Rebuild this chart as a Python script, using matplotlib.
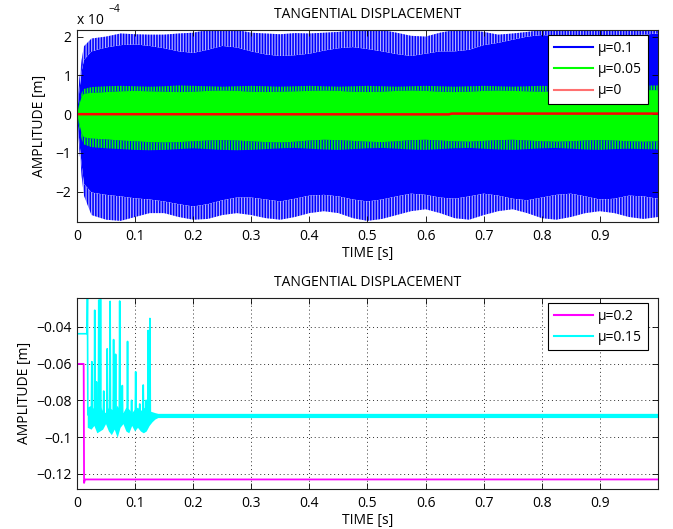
import matplotlib
matplotlib.use('Agg')
import matplotlib.pyplot as plt
from matplotlib.lines import Line2D

plt.rcParams['font.family'] = ['Open Sans', 'DejaVu Sans']
plt.rcParams['font.size'] = 10
plt.rcParams['hatch.linewidth'] = 1.15

# ---------------- top panel data (amplitude in units of 1e-4 m) ----------------
t_env = [0.0, 0.004, 0.008, 0.012,
         0.025, 0.05, 0.075, 0.1, 0.125, 0.15, 0.175, 0.2, 0.225, 0.25,
         0.275, 0.3, 0.325, 0.35, 0.375, 0.4, 0.425, 0.45, 0.475, 0.5,
         0.525, 0.55, 0.575, 0.6, 0.625, 0.65, 0.675, 0.7, 0.725, 0.75,
         0.775, 0.8, 0.825, 0.85, 0.875, 0.9, 0.925, 0.95, 0.975, 1.0]

# mu = 0.1 : outer peaks and dense core of the oscillation
blue_tip_hi = [0.0, 0.9, 1.4, 1.75,
               1.95, 2.00, 2.08, 2.06, 2.05, 2.05, 2.08, 2.10, 2.17, 2.17,
               2.17, 2.10, 2.08, 2.06, 2.09, 2.08, 2.10, 2.12, 2.17, 2.17,
               2.17, 2.10, 2.02, 2.00, 2.10, 2.17, 2.17, 2.12, 2.05, 2.08,
               2.12, 2.17, 2.17, 2.17, 2.17, 2.17, 2.17, 2.17, 2.17, 2.17]
blue_core_hi = [0.0, 0.6, 1.1, 1.4,
                1.62, 1.72, 1.78, 1.80, 1.76, 1.70, 1.62, 1.58, 1.66, 1.76,
                1.72, 1.62, 1.54, 1.50, 1.52, 1.56, 1.64, 1.70, 1.73, 1.68,
                1.62, 1.55, 1.50, 1.56, 1.62, 1.62, 1.66, 1.78, 1.84, 1.92,
                2.00, 2.04, 2.02, 2.00, 1.98, 1.98, 2.00, 2.02, 2.05, 2.08]
blue_core_lo = [0.0, -0.7, -1.3, -1.8,
                -2.02, -2.08, -2.12, -2.17, -2.20, -2.25, -2.32, -2.38, -2.32, -2.22,
                -2.15, -2.15, -2.20, -2.25, -2.18, -2.10, -2.08, -2.12, -2.20, -2.25,
                -2.20, -2.12, -2.05, -2.08, -2.15, -2.18, -2.12, -2.05, -2.10, -2.18,
                -2.22, -2.15, -2.08, -2.05, -2.12, -2.20, -2.18, -2.10, -2.12, -2.18]
blue_tip_lo = [0.0, -0.9, -1.6, -2.1,
               -2.60, -2.72, -2.75, -2.65, -2.55, -2.55, -2.65, -2.72, -2.70, -2.60,
               -2.55, -2.60, -2.68, -2.72, -2.65, -2.55, -2.50, -2.55, -2.68, -2.75,
               -2.70, -2.60, -2.50, -2.45, -2.55, -2.68, -2.72, -2.60, -2.50, -2.45,
               -2.55, -2.68, -2.72, -2.65, -2.55, -2.50, -2.55, -2.65, -2.70, -2.65]

# mu = 0.05
green_tip_hi = [0.0, 0.3, 0.55, 0.65,
                0.70, 0.72, 0.73, 0.72, 0.71, 0.72, 0.74, 0.73, 0.72, 0.71,
                0.72, 0.73, 0.72, 0.71, 0.72, 0.73, 0.72, 0.71, 0.72, 0.73,
                0.72, 0.71, 0.72, 0.73, 0.72, 0.71, 0.72, 0.73, 0.72, 0.71,
                0.72, 0.73, 0.72, 0.71, 0.72, 0.73, 0.72, 0.73, 0.74, 0.74]
green_core_hi = [0.0, 0.25, 0.45, 0.53,
                 0.55, 0.57, 0.59, 0.60, 0.59, 0.58, 0.57, 0.58, 0.60, 0.61,
                 0.60, 0.58, 0.57, 0.58, 0.59, 0.60, 0.61, 0.60, 0.58, 0.57,
                 0.58, 0.60, 0.61, 0.60, 0.58, 0.57, 0.58, 0.60, 0.61, 0.60,
                 0.59, 0.58, 0.59, 0.60, 0.61, 0.60, 0.59, 0.60, 0.62, 0.62]
green_core_lo = [0.0, -0.25, -0.5, -0.6,
                 -0.63, -0.65, -0.68, -0.70, -0.72, -0.73, -0.72, -0.70, -0.68, -0.67,
                 -0.68, -0.70, -0.72, -0.73, -0.71, -0.68, -0.66, -0.67, -0.69, -0.71,
                 -0.72, -0.70, -0.67, -0.66, -0.68, -0.70, -0.71, -0.69, -0.67, -0.66,
                 -0.68, -0.70, -0.71, -0.70, -0.68, -0.67, -0.68, -0.70, -0.71, -0.70]
green_tip_lo = [0.0, -0.35, -0.65, -0.78,
                -0.85, -0.88, -0.90, -0.92, -0.93, -0.92, -0.90, -0.88, -0.90, -0.92,
                -0.93, -0.92, -0.90, -0.88, -0.87, -0.89, -0.91, -0.92, -0.90, -0.88,
                -0.87, -0.89, -0.91, -0.92, -0.90, -0.88, -0.87, -0.89, -0.91, -0.92,
                -0.90, -0.88, -0.87, -0.89, -0.91, -0.92, -0.90, -0.89, -0.90, -0.91]

# mu = 0
red_t = [0.0, 0.64, 0.645, 1.0]
red_y = [0.0, -0.005, 0.015, 0.015]

top_labels = ['\u03bc=0.1', '\u03bc=0.05', '\u03bc=0']

# ---------------- bottom panel data (m) ----------------
mag_t = [0.0, 0.0003, 0.0115, 0.0122, 0.0132, 0.0142, 1.0]
mag_y = [-0.100, -0.0602, -0.0602, -0.1250, -0.1238, -0.1231, -0.1231]

cyan_init_t = [0.0, 0.0172]
cyan_init_y = [-0.0438, -0.0438]

spike_t = [0.0180, 0.0255, 0.0305, 0.0335, 0.0375, 0.0405, 0.0460, 0.0520,
           0.0570, 0.0630, 0.0665, 0.0735, 0.0780, 0.0870, 0.0940, 0.1010,
           0.1080, 0.1140, 0.1190, 0.1225, 0.1255]
spike_peak = [-0.0236, -0.0590, -0.0310, -0.0700, -0.0255, -0.0250, -0.0750, -0.0520,
              -0.0262, -0.0470, -0.0550, -0.0260, -0.0720, -0.0480, -0.0800, -0.0645,
              -0.0820, -0.0717, -0.0800, -0.0420, -0.0355]

band_t = [0.0185, 0.025, 0.03, 0.035, 0.04, 0.045, 0.05, 0.055, 0.06, 0.065,
          0.07, 0.075, 0.08, 0.085, 0.09, 0.095, 0.1, 0.105, 0.11, 0.115,
          0.12, 0.125, 0.13, 0.135, 0.14, 1.0]
band_hi = [-0.084, -0.083, -0.085, -0.084, -0.083, -0.086, -0.087, -0.084, -0.085, -0.086,
           -0.083, -0.086, -0.087, -0.084, -0.085, -0.087, -0.085, -0.084, -0.086, -0.084,
           -0.085, -0.086, -0.0865, -0.0870, -0.0874, -0.0874]
band_lo = [-0.095, -0.096, -0.094, -0.098, -0.097, -0.096, -0.093, -0.097, -0.099, -0.096,
           -0.1005, -0.095, -0.093, -0.097, -0.098, -0.094, -0.097, -0.095, -0.097, -0.098,
           -0.097, -0.094, -0.092, -0.0905, -0.0897, -0.0897]

bottom_labels = ['\u03bc=0.2', '\u03bc=0.15']

x_ticks = [0, 0.1, 0.2, 0.3, 0.4, 0.5, 0.6, 0.7, 0.8, 0.9]
x_ticklabels = ['0', '0.1', '0.2', '0.3', '0.4', '0.5', '0.6', '0.7', '0.8', '0.9']
top_yticks = [-2, -1, 0, 1, 2]
bot_yticks = [-0.12, -0.1, -0.08, -0.06, -0.04]
bot_yticklabels = ['\u22120.12', '\u22120.1', '\u22120.08', '\u22120.06', '\u22120.04']

BLUE, GREEN, RED = '#0000ff', '#00ff00', '#ff0000'
MAG, CYAN = '#ff00ff', '#00ffff'
FS = 10

fig = plt.figure(figsize=(6.73, 5.29), dpi=100)


def style_axes(ax):
    ax.tick_params(direction='in', length=4, width=0.6, top=True, right=True,
                   colors='black', labelsize=FS)
    ax.tick_params(axis='x', pad=5)
    ax.tick_params(axis='y', pad=4)
    for s in ax.spines.values():
        s.set_linewidth(0.8)
        s.set_color('#202020')
    ax.set_xlim(0, 1.0)
    ax.set_xticks(x_ticks)
    ax.set_xticklabels(x_ticklabels)
    ax.set_title('TANGENTIAL DISPLACEMENT', fontsize=FS, pad=8.5)
    ax.set_xlabel('TIME [s]', fontsize=FS, labelpad=1.5)


# ---------------- top axes ----------------
ax1 = fig.add_axes([0.1144, 0.5803, 0.8633, 0.3630])
ax1.fill_between(t_env, blue_core_lo, blue_core_hi, facecolor=BLUE, lw=0)
ax1.fill_between(t_env, blue_core_hi, blue_tip_hi, facecolor='#b4b4ff',
                 edgecolor=BLUE, hatch='||||||', lw=0)
ax1.fill_between(t_env, blue_tip_lo, blue_core_lo, facecolor='#b4b4ff',
                 edgecolor=BLUE, hatch='||||||', lw=0)
ax1.fill_between(t_env, green_core_hi, green_tip_hi, facecolor='none',
                 edgecolor=GREEN, hatch='||||||', lw=0)
ax1.fill_between(t_env, green_tip_lo, green_core_lo, facecolor='none',
                 edgecolor=GREEN, hatch='||||||', lw=0)
ax1.fill_between(t_env, green_core_lo, green_core_hi, facecolor=GREEN, lw=0)
ax1.plot(red_t, red_y, color=RED, lw=1.8)
ax1.set_ylim(-2.78, 2.17)
ax1.set_yticks(top_yticks)
style_axes(ax1)
ax1.set_ylabel('AMPLITUDE [m]', fontsize=FS, labelpad=6)
ax1.text(0.0, 1.03, 'x 10', transform=ax1.transAxes, fontsize=FS,
         ha='left', va='baseline')
ax1.text(0.054, 1.092, '\u22124', transform=ax1.transAxes, fontsize=7.5,
         ha='left', va='baseline')
h_top = [Line2D([], [], color=BLUE, lw=1.5), Line2D([], [], color=GREEN, lw=1.5),
         Line2D([], [], color='#ff7070', lw=1.5)]
leg1 = ax1.legend(h_top, top_labels, loc='upper left', bbox_to_anchor=(0.811, 0.972),
                  borderaxespad=0, fancybox=False, framealpha=1, edgecolor='black',
                  handlelength=2.8, handletextpad=0.4, labelspacing=0.45,
                  borderpad=0.4, fontsize=FS)
leg1.get_frame().set_linewidth(0.8)

# ---------------- bottom axes ----------------
ax2 = fig.add_axes([0.1144, 0.0756, 0.8633, 0.3616])
ax2.set_axisbelow(True)
ax2.grid(True, linestyle=(0, (1, 3)), color='#303030', lw=0.7)
ax2.plot(mag_t, mag_y, color=MAG, lw=1.3)
ax2.fill_between(band_t, band_lo, band_hi, facecolor=CYAN, lw=0)
# cyan trace: initial plateau then narrow spikes out of the oscillating band
cy_t = list(cyan_init_t)
cy_y = list(cyan_init_y)
base = -0.088
for ts, ps in zip(spike_t, spike_peak):
    left = cy_y[-1] if len(cy_t) == len(cyan_init_t) else base
    cy_t += [ts - 0.0007, ts, ts + 0.0007]
    cy_y += [left, ps, base]
cy_t.append(band_t[-1])
cy_y.append(base)
ax2.plot(cy_t, cy_y, color=CYAN, lw=1.2)
ax2.set_ylim(-0.1283, -0.0242)
ax2.set_yticks(bot_yticks)
ax2.set_yticklabels(bot_yticklabels)
style_axes(ax2)
ax2.set_ylabel('AMPLITUDE [m]', fontsize=FS, labelpad=3)
h_bot = [Line2D([], [], color=MAG, lw=1.5), Line2D([], [], color=CYAN, lw=1.5)]
leg2 = ax2.legend(h_bot, bottom_labels, loc='upper left', bbox_to_anchor=(0.811, 0.972),
                  borderaxespad=0, fancybox=False, framealpha=1, edgecolor='black',
                  handlelength=2.8, handletextpad=0.4, labelspacing=0.45,
                  borderpad=0.4, fontsize=FS)
leg2.get_frame().set_linewidth(0.8)

fig.savefig('out.png', dpi=100)
